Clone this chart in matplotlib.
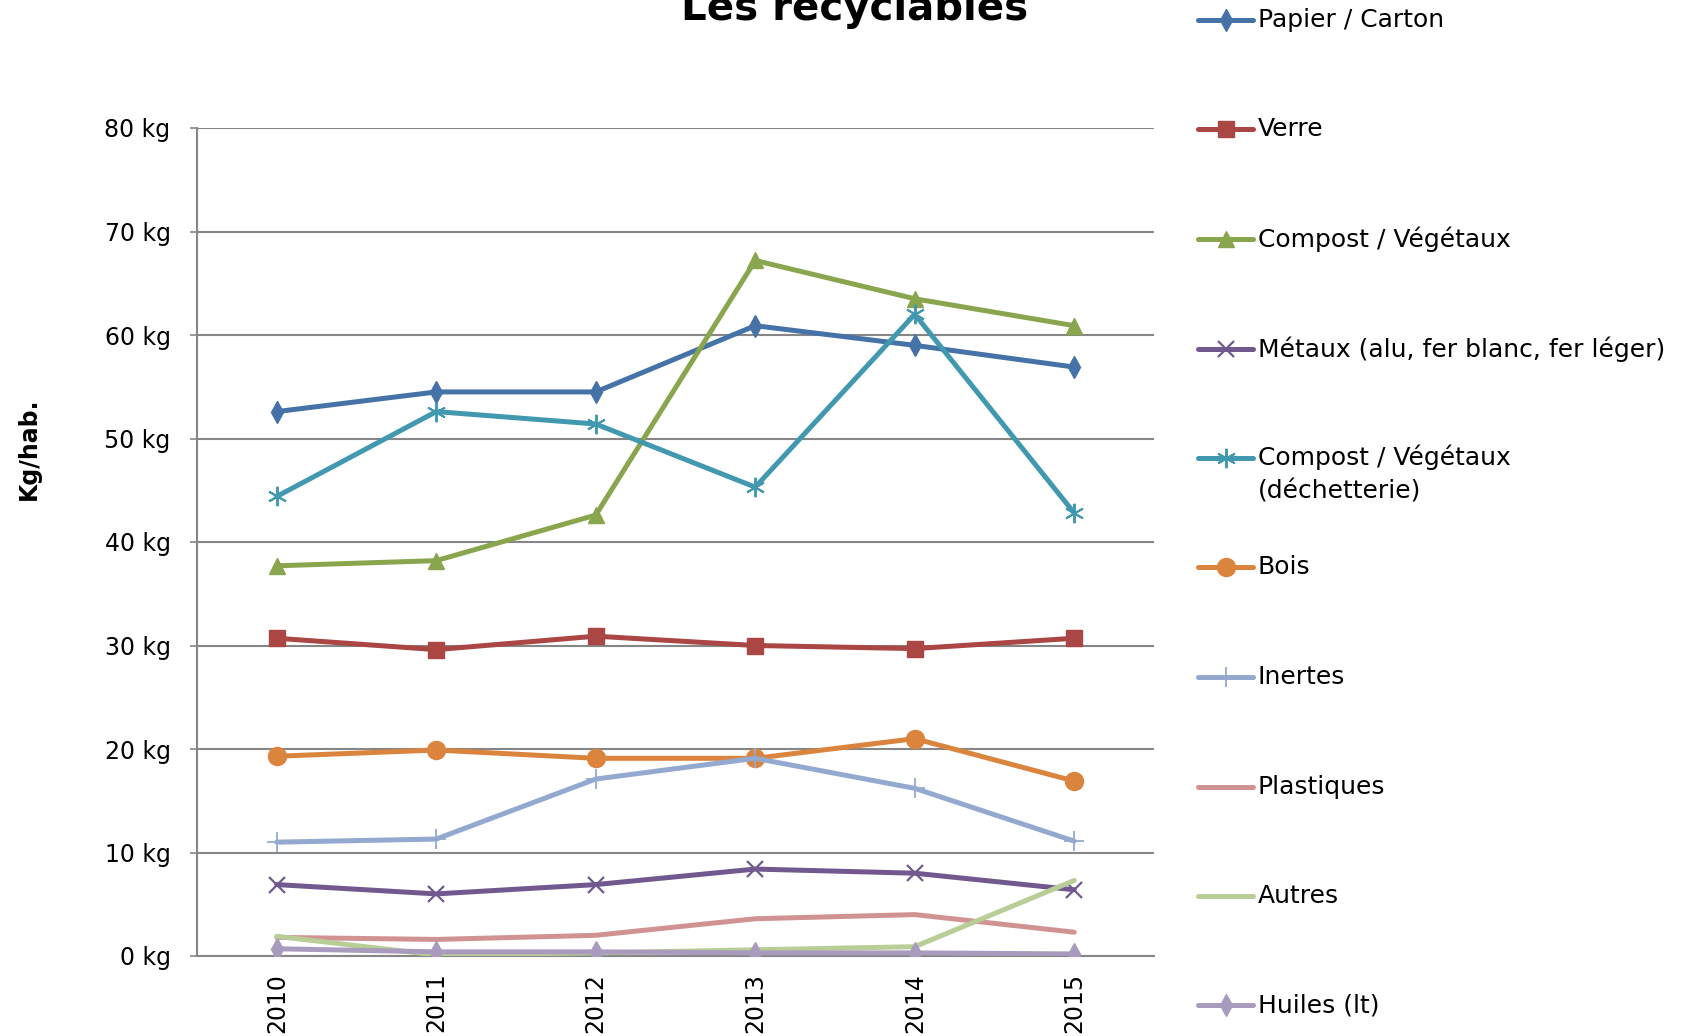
import matplotlib
matplotlib.use("Agg")
import matplotlib.pyplot as plt
from matplotlib.lines import Line2D

plt.rcParams['font.family'] = ['DejaVu Sans']

years = ["2010", "2011", "2012", "2013", "2014", "2015"]

papier = [52.6, 54.5, 54.5, 60.9, 59.0, 56.9]
verre = [30.7, 29.6, 30.9, 30.0, 29.7, 30.7]
compost = [37.7, 38.2, 42.6, 67.2, 63.5, 60.9]
metaux = [6.9, 6.0, 6.9, 8.4, 8.0, 6.4]
compost_dech = [44.4, 52.6, 51.4, 45.3, 62.0, 42.8]
bois = [19.3, 19.9, 19.1, 19.1, 21.0, 16.9]
inertes = [11.0, 11.3, 17.1, 19.1, 16.2, 11.1]
plastiques = [1.8, 1.6, 2.0, 3.6, 4.0, 2.3]
autres = [1.9, 0.1, 0.3, 0.6, 0.9, 7.3]
huiles = [0.7, 0.4, 0.4, 0.3, 0.3, 0.2]

labels = ["Papier / Carton", "Verre", "Compost / Végétaux",
          "Métaux (alu, fer blanc, fer léger)",
          "Compost / Végétaux\n(déchetterie)", "Bois", "Inertes",
          "Plastiques", "Autres", "Huiles (lt)"]
series = [papier, verre, compost, metaux, compost_dech, bois, inertes,
          plastiques, autres, huiles]
colors = ["#4572A7", "#AA4643", "#89A54E", "#71588F", "#4198AF",
          "#DB843D", "#93A9CF", "#D19392", "#B9CD96", "#A99BBD"]
markers = ["d", "s", "^", "x", (6, 2, 0), "o", "+", None, None, "d"]
msizes = [11, 12, 12, 12, 14, 13, 14, 0, 0, 11]
mews = [1, 1, 1, 1.6, 1.4, 1, 1.3, 1, 1, 1]

W, H = 1688, 1036
fig = plt.figure(figsize=(W / 100, H / 100), dpi=100)
ax = fig.add_axes([197 / W, 1 - 956 / H, (1154 - 197) / W, (956 - 128) / H])

x = list(range(len(years)))
for s, c, m, ms, mew in zip(series, colors, markers, msizes, mews):
    ax.plot(x, s, color=c, lw=3.6, marker=m, markersize=ms, markeredgewidth=mew,
            markeredgecolor=c, markerfacecolor=c, solid_capstyle='round',
            solid_joinstyle='round', zorder=3)

ax.set_xlim(-0.5, len(years) - 0.5)
ax.set_ylim(0, 80)
ax.set_yticks(range(0, 81, 10))
ax.set_yticklabels([f"{v} kg" for v in range(0, 81, 10)], fontsize=17)
ax.set_xticks(x)
ax.set_xticklabels(years, rotation=90, fontsize=17, va='top')
ax.tick_params(axis='x', length=0, pad=12)
ax.tick_params(axis='y', length=5, width=1.2, color='#868686', pad=14,
               direction='out')
ax.yaxis.grid(True, color='#868686', lw=1.5)
ax.set_axisbelow(True)
for sp in ['top', 'right']:
    ax.spines[sp].set_visible(False)
for sp in ['left', 'bottom']:
    ax.spines[sp].set_color('#868686')
    ax.spines[sp].set_linewidth(1.5)

fig.text(29 / W, 1 - 449 / H, "Kg/hab.", rotation=90, fontsize=17,
         fontweight='bold', ha='center', va='center')
fig.text(855 / W, 1 - 20 / H, "Les recyclables", fontsize=29,
         fontweight='bold', ha='center', va='baseline')

# legend (manual)
leg_y = [20, 129, 239, 349, 458, 567, 677, 787, 896, 1005]
for lab, c, m, ms, mew, yy in zip(labels, colors, markers, msizes, mews, leg_y):
    yf = 1 - yy / H
    fig.add_artist(Line2D([1198 / W, 1253 / W], [yf, yf], color=c, lw=3.6,
                          solid_capstyle='round', transform=fig.transFigure))
    if m is not None:
        fig.add_artist(Line2D([1226 / W], [yf], color=c, marker=m,
                              markersize=ms, markeredgewidth=mew,
                              markeredgecolor=c, markerfacecolor=c,
                              transform=fig.transFigure))
    if "\n" in lab:
        fig.text(1258 / W, yf + 14 / H, lab, fontsize=18, ha='left', va='top',
                 linespacing=1.55)
    else:
        fig.text(1258 / W, yf, lab, fontsize=18, ha='left', va='center')

fig.savefig("out.png", dpi=100)
